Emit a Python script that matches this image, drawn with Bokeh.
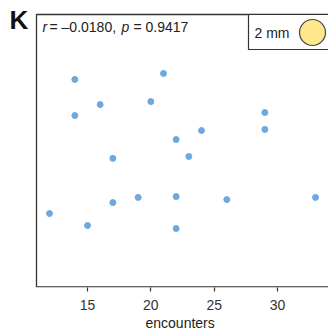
from bokeh.plotting import figure
from bokeh.models import Range1d, Label, ColumnDataSource, Title
from bokeh.embed import file_html
from bokeh.resources import INLINE

# data
encounters = [12, 14, 14, 15, 16, 17, 17, 19, 20, 21, 22, 22, 22, 23, 24, 26, 29, 29, 33]
values = [27.1, 76.2, 63.0, 22.7, 67.0, 47.3, 31.1, 33.0, 68.1, 78.4, 54.2, 33.3, 21.6, 48.0, 57.5, 32.2, 64.1, 57.9, 33.0]
x_ticks = [15, 20, 25, 30]
panel_letter = "K"
stat_parts = [("r", "italic"), ("= \u20130.0180,", "normal"), ("p", "italic"), ("= 0.9417", "normal")]
legend_label = "2 mm"
x_label = "encounters"

FONT = "Liberation Sans"
W, H = 328, 331
B = 44
FW, FH = W, H - B          # frame covers whole canvas above the axis
BOX_L, BOX_T = 36, FH - 14  # visible plot box (pixel coords in frame)
PXU = (30 - 15) / 190.0     # data units per pixel along x
PYU = 100.0 / 273.0         # data units per pixel along y

p = figure(width=W, height=H, output_backend="svg", toolbar_location=None,
           x_range=Range1d(15 - 87 * PXU, 15 + (W - 87) * PXU),
           y_range=Range1d(0, 100 + 14 * PYU),
           y_axis_location=None, min_border_left=0, min_border_right=0,
           min_border_top=0, min_border_bottom=B)
p.extra_x_ranges = {"px": Range1d(0, FW)}
p.extra_y_ranges = {"px": Range1d(0, FH)}

p.xgrid.visible = False
p.ygrid.visible = False
p.outline_line_color = None
p.background_fill_color = "white"
p.border_fill_color = "white"

ax = p.xaxis[0]
ax.ticker = x_ticks
ax.major_label_text_font = FONT
ax.major_label_text_font_size = "14px"
ax.major_label_text_color = "#333333"
ax.major_label_standoff = 8
ax.major_tick_out = 4
ax.major_tick_in = 0
ax.minor_tick_out = 0
ax.minor_tick_in = 0
ax.axis_line_color = None
ax.major_tick_line_color = "#333333"
ax.major_tick_line_width = 1.2

# x axis label, centred under the visible box
p.add_layout(Title(text=x_label, align="left", offset=145, text_font=FONT,
                   text_font_size="14px", text_font_style="normal",
                   text_line_height=1.0,
                   text_color="#222222", standoff=0), "below")

# plot box (left, top, bottom edges visible)
p.quad(left=[BOX_L], right=[FW + 20], bottom=[0.6], top=[BOX_T],
       fill_color=None, line_color="#333333", line_width=1.3,
       x_range_name="px", y_range_name="px")

src = ColumnDataSource(dict(x=encounters, y=values))
p.scatter("x", "y", source=src, size=6, fill_color="#6FA8DC", line_color="#6FA8DC")

# legend box
p.quad(left=[248], right=[FW + 20], bottom=[BOX_T - 35], top=[BOX_T],
       fill_color="white", line_color="#333333", line_width=1.2,
       x_range_name="px", y_range_name="px")
p.scatter(x=[312], y=[BOX_T - 18], size=26, fill_color="#FFE88C", line_color="#444444",
          line_width=1.2, x_range_name="px", y_range_name="px")
p.add_layout(Label(x=254, y=BOX_T - 18, text=legend_label, text_font=FONT,
                   text_font_size="14px", text_color="#222222",
                   text_baseline="alphabetic", x_range_name="px", y_range_name="px"))

# panel letter
p.add_layout(Label(x=9, y=FH - 19, text=panel_letter,
                   text_font=FONT, text_font_size="26px", text_font_style="bold",
                   text_color="#111111", text_baseline="alphabetic",
                   x_range_name="px", y_range_name="px"))

# stats text
xs = [42, 49, 121, 133]
for (t, st), xx in zip(stat_parts, xs):
    p.add_layout(Label(x=xx, y=BOX_T - 12, text=t, text_font=FONT, text_font_size="14px",
                       text_font_style=st, text_color="#222222",
                       text_baseline="alphabetic", x_range_name="px", y_range_name="px"))

open("out.html", "w").write(file_html(p, INLINE))
